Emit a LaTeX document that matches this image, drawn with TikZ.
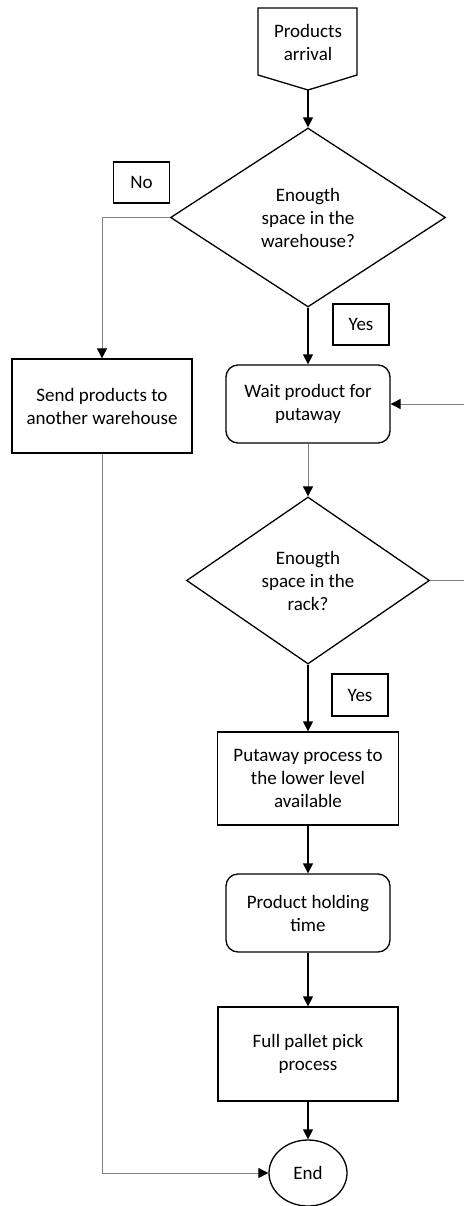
\documentclass[tikz,border=0pt]{standalone}
\usepackage{fontspec}
\setmainfont{Carlito}
\usetikzlibrary{shapes.geometric,arrows.meta}

\tikzset{every node/.style={font=\fontsize{19}{23}\selectfont,align=center,inner sep=0pt},
box/.style={draw,rectangle,line width=1.3pt},
roundbox/.style={box,rounded corners=12pt},
ask/.style={draw,diamond,line width=1.3pt,shape aspect=1.5},
tag/.style={draw,rectangle,line width=1.1pt,minimum width=56pt},
flow/.style={draw,line width=1.3pt,-{Triangle[length=10pt,width=10pt]}},
back/.style={draw,color=gray,line width=0.9pt,-{Triangle[length=10pt,width=10pt,color=black]}}}

\begin{document}
\begin{tikzpicture}[x=1pt,y=-1pt]
\useasboundingbox (0,0) rectangle (464,1206);
\draw[line width=1.3pt] (258,8) -- (357,8) -- (357,75) -- (308,90) -- (258,75) -- cycle;
\path
(308,42) node(arrival){Products\\arrival}
(308,90) coordinate(tip)
(308,217.5) node[ask,minimum width=275pt,minimum height=179pt](q1){Enougth\\space in the\\warehouse?}
(141.5,182.5) node[tag,minimum height=41pt](no){No}
(361,324.5) node[tag,minimum height=41pt](yes1){Yes}
(102,406) node[box,minimum width=180pt,minimum height=94pt](send){Send products to\\another warehouse}
(308,404) node[roundbox,minimum width=164pt,minimum height=78pt](wait){Wait product for\\putaway}
(464,404) coordinate(in)
(308,580.5) node[ask,minimum width=243pt,minimum height=167pt](q2){Enougth\\space in the\\rack?}
(464,580.5) coordinate(out)
(360,695) node[tag,minimum height=42pt](yes2){Yes}
(308,778.5) node[box,minimum width=181pt,minimum height=93pt](putaway){Putaway process to\\the lower level\\available}
(308,913) node[roundbox,minimum width=164pt,minimum height=78pt](hold){Product holding\\time}
(308,1054) node[box,minimum width=180pt,minimum height=94pt](pick){Full pallet pick\\process}
(308,1173) node[draw,ellipse,line width=1.3pt,minimum width=78pt,minimum height=66pt](end){End};
\path[flow] (tip)--(q1.north);
\path[flow] (q1.south)--(wait.north);
\path[back] (q1.west)-|(send.north);
\path[back] (in)--(wait.east);
\path[back] (wait.south)--(q2.north);
\path[draw,color=gray,line width=0.9pt] (q2.east)--(out);
\path[flow] (q2.south)--(putaway.north);
\path[flow] (putaway.south)--(hold.north);
\path[flow] (hold.south)--(pick.north);
\path[flow] (pick.south)--(end.north);
\path[back] (send.south)|-(end.west);
\end{tikzpicture}
\end{document}
